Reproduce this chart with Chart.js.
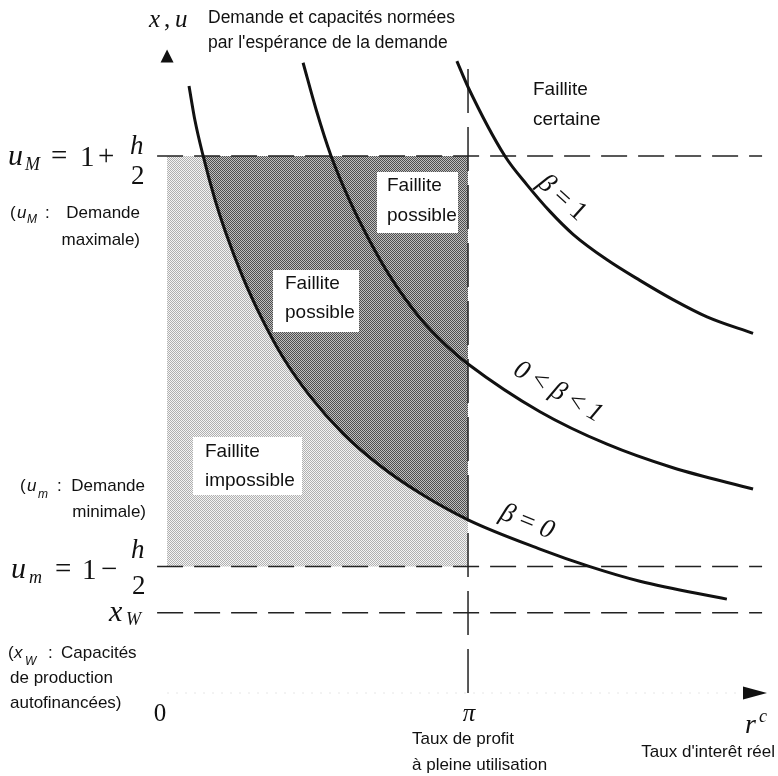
<!DOCTYPE html>
<html>
<head>
<meta charset="utf-8">
<script src="https://cdn.jsdelivr.net/npm/chart.js@4.4.1/dist/chart.umd.min.js"></script>
<style>
body { margin: 0; background: #fff; }
#wrap { width: 778px; height: 776px; }
</style>
</head>
<body>
<div id="wrap"><canvas id="chart" width="778" height="776"></canvas></div>
<script>
// units: x = r^c / pi, y = capacity or demand / expected demand
const xTicks = [0, 1];
const xTickLabels = ["0", "π"];

const uMax = 1.619;   // u_M = 1 + h/2
const uMin = 0.381;   // u_m = 1 - h/2
const xW = 0.242;
const piRate = 1;

// beta = 0
const beta0X = [0.073, 0.093, 0.120, 0.159, 0.193, 0.252, 0.316, 0.385, 0.475, 0.585, 0.708, 0.841, 1.000, 1.239, 1.405, 1.571, 1.860];
const beta0Y = [1.830, 1.725, 1.619, 1.488, 1.393, 1.253, 1.127, 1.012, 0.895, 0.782, 0.685, 0.602, 0.522, 0.434, 0.381, 0.337, 0.283];

// 0 < beta < 1
const betaMidX = [0.452, 0.495, 0.545, 0.608, 0.674, 0.741, 0.841, 0.930, 1.000, 1.239, 1.462, 1.681, 1.947];
const betaMidY = [1.900, 1.760, 1.619, 1.482, 1.362, 1.256, 1.130, 1.046, 0.992, 0.848, 0.750, 0.679, 0.615];

// beta = 1
const beta1X = [0.963, 1.000, 1.123, 1.196, 1.272, 1.349, 1.462, 1.571, 1.681, 1.794, 1.947];
const beta1Y = [1.905, 1.827, 1.618, 1.532, 1.452, 1.383, 1.306, 1.244, 1.186, 1.134, 1.084];

const SANS = '"Liberation Sans", Arial, sans-serif';
const SERIF = '"Liberation Serif", "Times New Roman", serif';

function pts(xs, ys) {
    return xs.map((v, i) => ({ x: v, y: ys[i] }));
}

let canvas = document.getElementById("chart");
let mainCtx = canvas.getContext("2d");

function makePattern(c1, c2) {
    let tile = document.createElement("canvas");
    tile.width = 2;
    tile.height = 2;
    let g = tile.getContext("2d");
    g.fillStyle = c2;
    g.fillRect(0, 0, 2, 2);
    g.fillStyle = c1;
    g.fillRect(0, 0, 1, 1);
    g.fillRect(1, 1, 1, 1);
    return mainCtx.createPattern(tile, "repeat");
}

let lightPat = makePattern("#b0b0b0", "#f4f4f4");
let darkPat = makePattern("#4e4e4e", "#bebebe");

// part of the beta = 0 curve that bounds the dark area
let inBox = pts(beta0X, beta0Y).filter(p => p.x >= beta0X[2] && p.x <= piRate);

function curve(data) {
    return { data, borderColor: "#111", borderWidth: 3, pointRadius: 0, fill: false, cubicInterpolationMode: "monotone", order: 1 };
}
function dashed(data, dash) {
    return { data, borderColor: "#222", borderWidth: 1.5, borderDash: dash, pointRadius: 0, fill: false, order: 3 };
}

function put(ctx, s, x, y, font, align, base) {
    ctx.font = font;
    ctx.textAlign = align || "left";
    ctx.textBaseline = base || "middle";
    ctx.fillText(s, x, y);
}

function runs(ctx, pieces, x, y) {
    let w = 0;
    pieces.forEach(p => { ctx.font = p[1]; w += ctx.measureText(p[0]).width; });
    let cx = x - w / 2;
    ctx.textAlign = "left";
    ctx.textBaseline = "middle";
    pieces.forEach(p => {
        ctx.font = p[1];
        ctx.fillText(p[0], cx, y + (p[2] || 0));
        cx += ctx.measureText(p[0]).width;
    });
}

function rotated(ctx, pieces, x, y, deg) {
    ctx.save();
    ctx.translate(x, y);
    ctx.rotate(deg * Math.PI / 180);
    runs(ctx, pieces, 0, 0);
    ctx.restore();
}

const labelPlugin = {
    id: "labels",
    afterDraw(chart) {
        let ctx = chart.ctx;
        let xs = chart.scales.x, ys = chart.scales.y;
        let x0 = xs.getPixelForValue(0);
        let yAxis = ys.getPixelForValue(0);
        ctx.save();
        ctx.fillStyle = "#111";

        // faint x axis
        ctx.strokeStyle = "#e6e6e6";
        ctx.lineWidth = 1;
        ctx.setLineDash([2, 7]);
        ctx.beginPath();
        ctx.moveTo(x0, yAxis);
        ctx.lineTo(745, yAxis);
        ctx.stroke();
        ctx.setLineDash([]);

        // arrow heads
        let top = ys.getPixelForValue(ys.max);
        ctx.beginPath();
        ctx.moveTo(x0, top);
        ctx.lineTo(x0 - 6.5, top + 13);
        ctx.lineTo(x0 + 6.5, top + 13);
        ctx.closePath();
        ctx.fill();
        ctx.beginPath();
        ctx.moveTo(767, yAxis);
        ctx.lineTo(743, yAxis - 6.5);
        ctx.lineTo(743, yAxis + 6.5);
        ctx.closePath();
        ctx.fill();

        // white boxes with region names
        ctx.fillStyle = "#fff";
        ctx.fillRect(377, 172, 81, 61);
        ctx.fillRect(273, 270, 86, 62);
        ctx.fillRect(193, 437, 109, 58);
        ctx.fillStyle = "#111";
        let f19 = "19px " + SANS;
        put(ctx, "Faillite", 387, 186, f19);
        put(ctx, "possible", 387, 216, f19);
        put(ctx, "Faillite", 285, 284, f19);
        put(ctx, "possible", 285, 313, f19);
        put(ctx, "Faillite", 205, 452, f19);
        put(ctx, "impossible", 205, 481, f19);
        put(ctx, "Faillite", 533, 90, f19);
        put(ctx, "certaine", 533, 120, f19);

        // axis titles
        let f17 = "17px " + SANS;
        let f175 = "17.5px " + SANS;
        put(ctx, "Demande et capacités normées", 208, 18, f175);
        put(ctx, "par l'espérance de la demande", 208, 43, f175);
        let mi = "italic 25px " + SERIF;
        let mr = "25px " + SERIF;
        put(ctx, "x", 149, 27, mi, "left", "alphabetic");
        put(ctx, ",", 164, 27, mr, "left", "alphabetic");
        put(ctx, "u", 175, 27, mi, "left", "alphabetic");

        // x ticks
        xTicks.forEach((v, i) => {
            let px = xs.getPixelForValue(v);
            put(ctx, xTickLabels[i], v === 0 ? px - 7 : px + 1, 721, i === 0 ? mr : mi, "center", "alphabetic");
        });
        put(ctx, "Taux de profit", 412, 739, f17);
        put(ctx, "à pleine utilisation", 412, 765, f17);
        put(ctx, "r", 745, 733, "italic 28px " + SERIF, "left", "alphabetic");
        put(ctx, "c", 759, 722, "italic 18px " + SERIF, "left", "alphabetic");
        put(ctx, "Taux d'interêt réel", 775, 752, f17, "right");

        // y side formulas
        let big = "29px " + SERIF, bigI = "italic 30px " + SERIF, sub = "italic 18px " + SERIF;
        let frac = "27px " + SERIF, fracI = "italic 27px " + SERIF;
        let yM = ys.getPixelForValue(uMax);
        put(ctx, "u", 8, yM + 9, bigI, "left", "alphabetic");
        put(ctx, "M", 25, yM + 14, sub, "left", "alphabetic");
        put(ctx, "=", 51, yM + 9, big, "left", "alphabetic");
        put(ctx, "1", 80, yM + 10, big, "left", "alphabetic");
        put(ctx, "+", 98, yM + 9, big, "left", "alphabetic");
        put(ctx, "h", 130, yM - 2, fracI, "left", "alphabetic");
        put(ctx, "2", 131, yM + 28, frac, "left", "alphabetic");

        let ym = ys.getPixelForValue(uMin);
        put(ctx, "u", 11, ym + 11, bigI, "left", "alphabetic");
        put(ctx, "m", 29, ym + 16, sub, "left", "alphabetic");
        put(ctx, "=", 55, ym + 11, big, "left", "alphabetic");
        put(ctx, "1", 82, ym + 12, big, "left", "alphabetic");
        put(ctx, "\u2212", 101, ym + 11, big, "left", "alphabetic");
        put(ctx, "h", 131, ym - 9, fracI, "left", "alphabetic");
        put(ctx, "2", 132, ym + 27, frac, "left", "alphabetic");

        let yw = ys.getPixelForValue(xW);
        put(ctx, "x", 109, yw + 8, bigI, "left", "alphabetic");
        put(ctx, "W", 126, yw + 12, sub, "left", "alphabetic");

        // side notes
        let si = "italic 17px " + SANS, ss = "italic 12px " + SANS;
        put(ctx, "(", 10, 213, f17);
        put(ctx, "u", 17, 213, si);
        put(ctx, "M", 27, 220, ss);
        put(ctx, ":", 45, 213, f17);
        put(ctx, "Demande", 140, 213, f17, "right");
        put(ctx, "maximale)", 140, 240, f17, "right");

        put(ctx, "(", 20, 486, f17);
        put(ctx, "u", 27, 486, si);
        put(ctx, "m", 38, 495, ss);
        put(ctx, ":", 57, 486, f17);
        put(ctx, "Demande", 145, 486, f17, "right");
        put(ctx, "minimale)", 146, 512, f17, "right");

        put(ctx, "(", 8, 653, f17);
        put(ctx, "x", 14, 653, si);
        put(ctx, "W", 25, 662, ss);
        put(ctx, ":", 48, 653, f17);
        put(ctx, "Capacités", 61, 653, f17);
        put(ctx, "de production", 10, 678, f17);
        put(ctx, "autofinancées)", 10, 703, f17);

        // curve names
        let gi = "italic 27px " + SERIF, gr = "27px " + SERIF;
        rotated(ctx, [["β", gi], [" = ", gr], ["1", gr]], 562, 198, 42);
        rotated(ctx, [["0", gi], [" < ", gr], ["β", gi], [" < ", gr], ["1", gi]], 558, 392, 30);
        rotated(ctx, [["β", gi], [" = ", gr], ["0", gi]], 527, 522, 22);

        ctx.restore();
    }
};

new Chart(mainCtx, {
    type: "line",
    data: {
        datasets: [
            curve(pts(beta1X, beta1Y)),
            curve(pts(betaMidX, betaMidY)),
            curve(pts(beta0X, beta0Y)),
            dashed([{ x: -0.033, y: uMax }, { x: 1.977, y: uMax }], [26, 11]),
            dashed([{ x: -0.033, y: uMin }, { x: 1.977, y: uMin }], [26, 11]),
            dashed([{ x: -0.033, y: xW }, { x: 1.977, y: xW }], [26, 11]),
            dashed([{ x: piRate, y: 0 }, { x: piRate, y: 1.914 }], [44, 14]),
            { data: [{ x: beta0X[2], y: uMax }, { x: piRate, y: uMax }], borderWidth: 0, pointRadius: 0, fill: { target: 8 }, backgroundColor: darkPat, order: 8 },
            { data: inBox, borderWidth: 0, pointRadius: 0, fill: false, cubicInterpolationMode: "monotone", order: 8 },
            { data: [{ x: 0, y: uMax }, { x: piRate, y: uMax }], borderWidth: 0, pointRadius: 0, fill: { value: uMin }, backgroundColor: lightPat, order: 9 }
        ]
    },
    options: {
        responsive: false,
        animation: false,
        devicePixelRatio: 1,
        layout: { padding: { left: 155, right: 9, top: 49.5, bottom: 83 } },
        plugins: { legend: { display: false }, tooltip: { enabled: false } },
        scales: {
            x: { type: "linear", min: -0.04, max: 2.0, display: false },
            y: { type: "linear", min: 0, max: 1.94, display: false }
        }
    },
    plugins: [labelPlugin]
});
</script>
</body>
</html>
